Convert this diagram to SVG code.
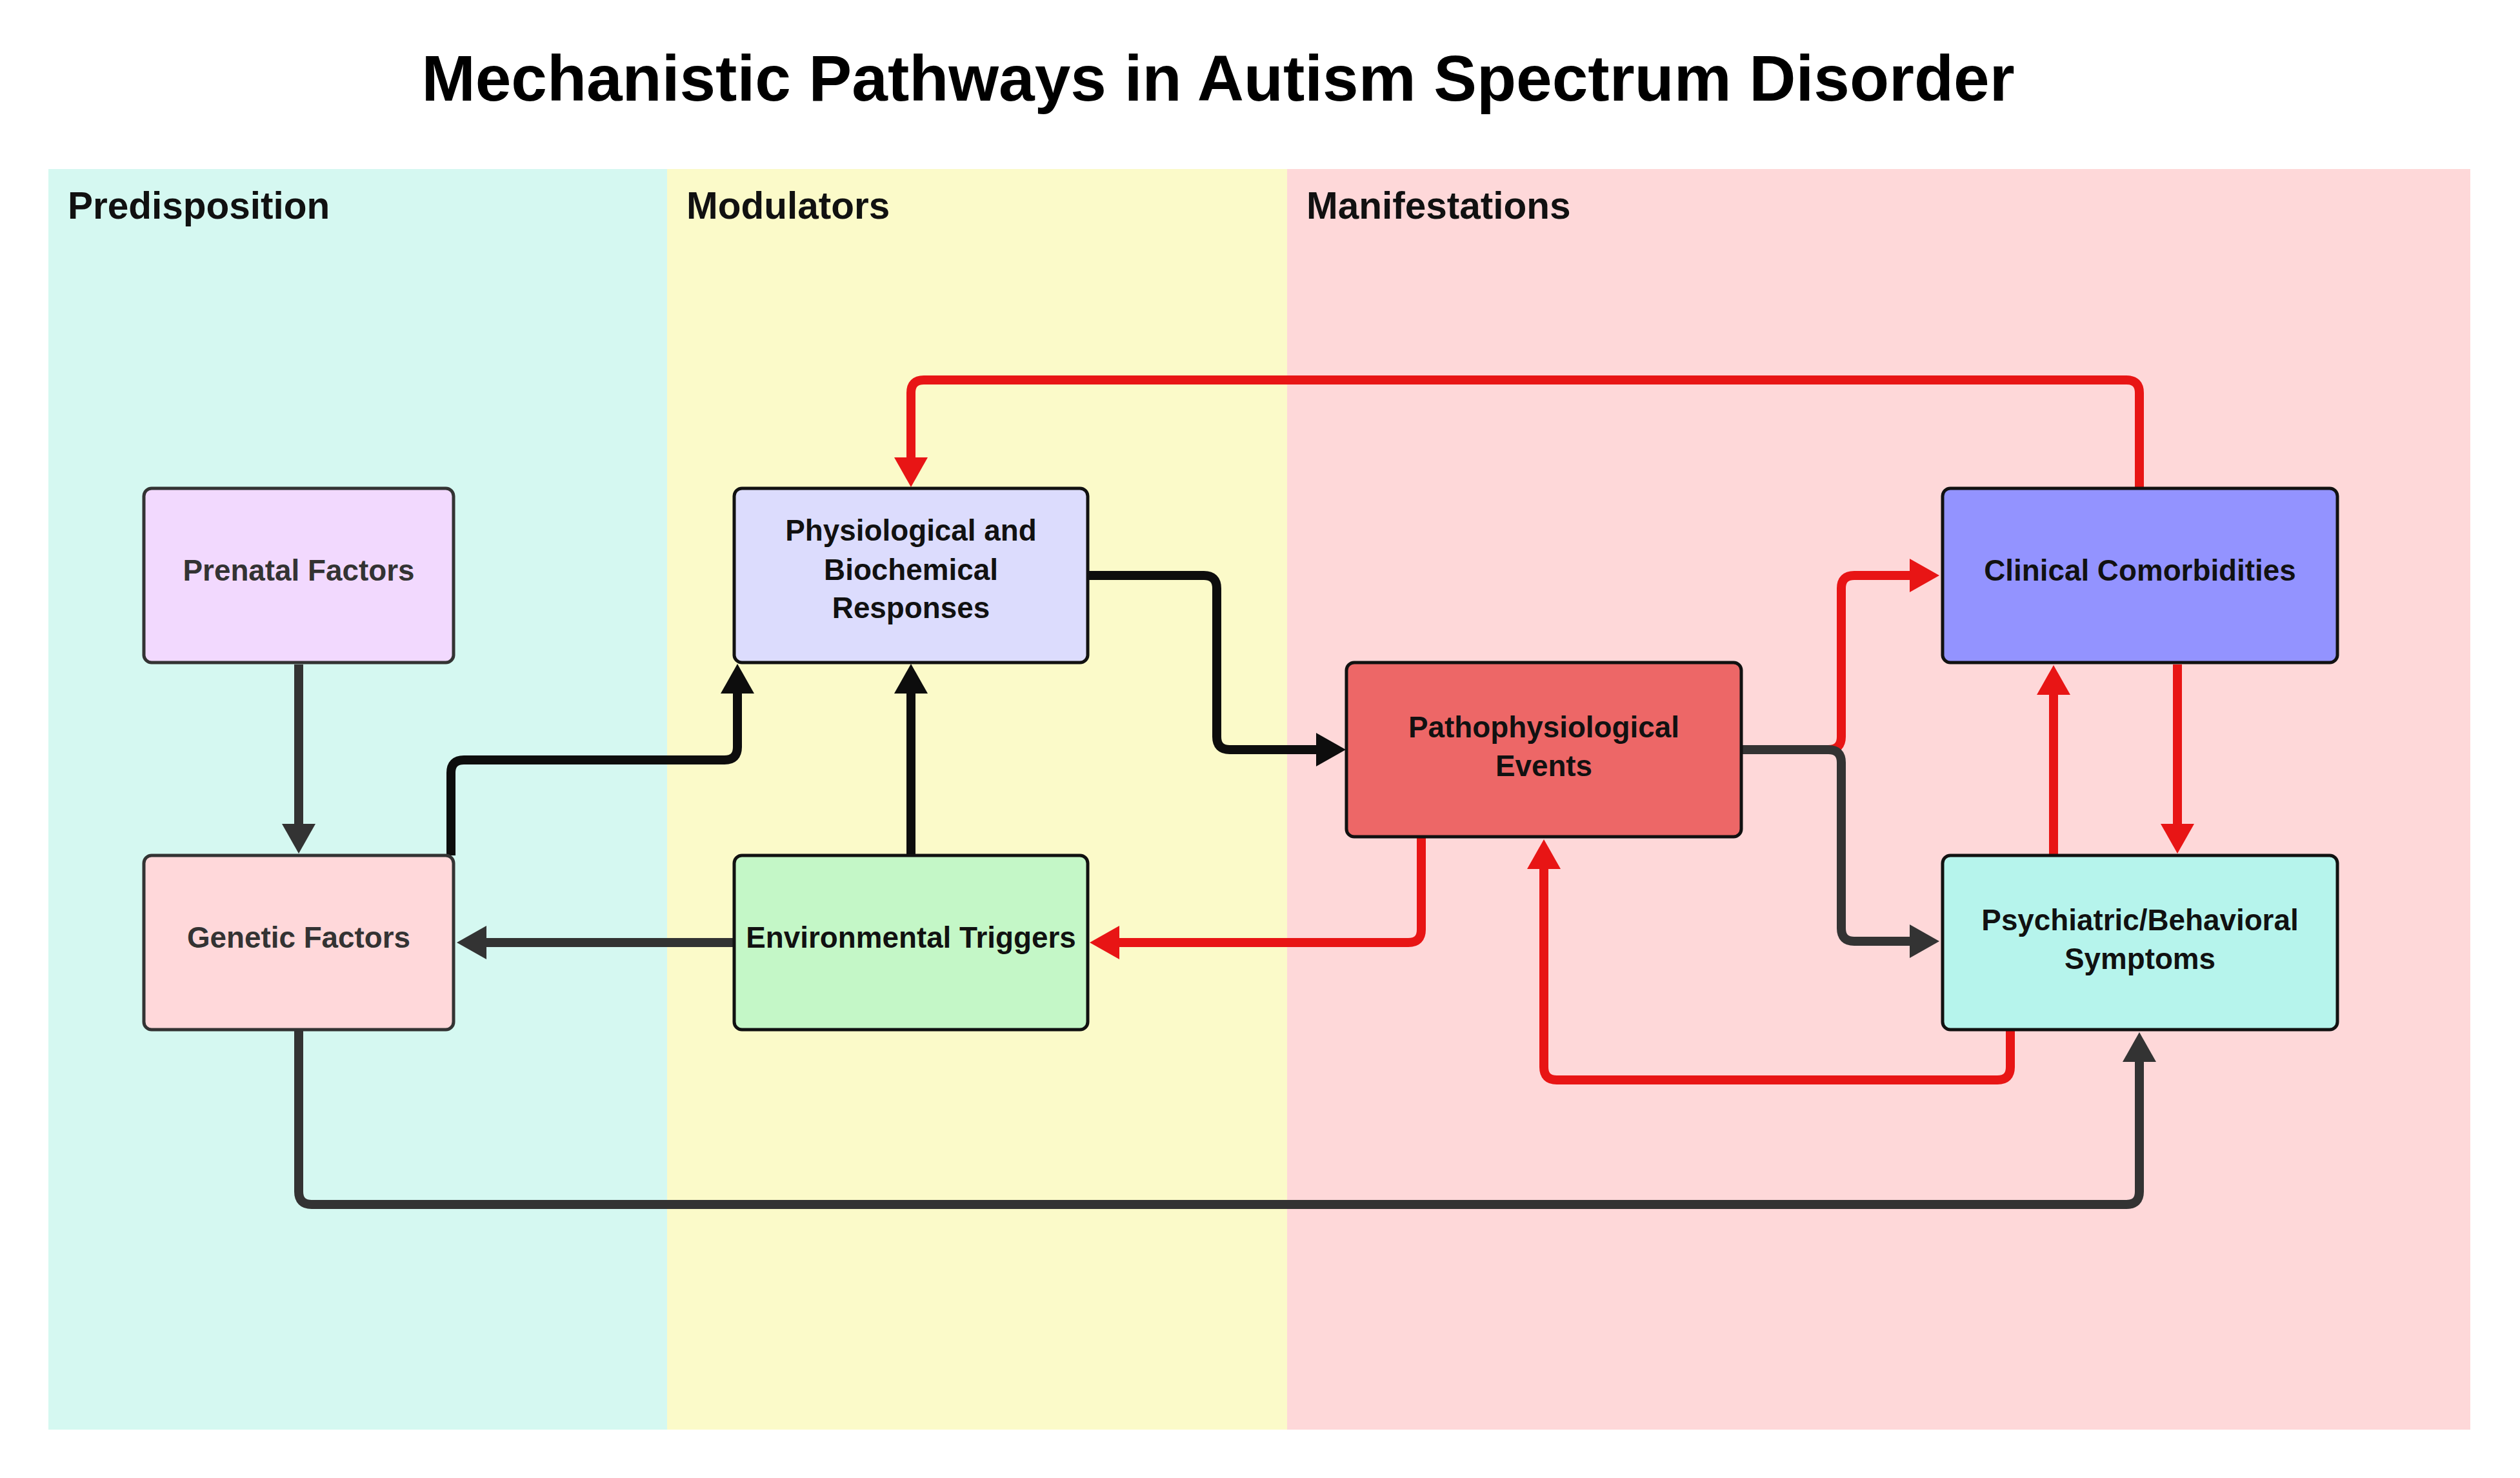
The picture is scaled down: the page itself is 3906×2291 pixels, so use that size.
<svg xmlns="http://www.w3.org/2000/svg" width="3906" height="2291" viewBox="0 0 3906 2291">
<style>
.title{font-family:"Liberation Sans",Arial,sans-serif;font-weight:bold;font-size:100px;fill:#000;text-anchor:middle}
.lane{font-family:"Liberation Sans",Arial,sans-serif;font-weight:bold;font-size:58.5px;fill:#111}
.lbl{font-family:"Liberation Sans",Arial,sans-serif;font-weight:bold;font-size:45.8px;fill:#111;text-anchor:middle}
.lbl.g{fill:#333}
.box{stroke:#111;stroke-width:5}
.box.g{stroke:#333}
.c{fill:none;stroke-width:14;stroke-linejoin:round}
.k{stroke:#0d0d0d}
.d{stroke:#333}
.r{stroke:#e81515}
</style>
<defs>
<marker id="ak" markerUnits="userSpaceOnUse" markerWidth="46" markerHeight="52" refX="0" refY="26" orient="auto"><path d="M0,0 L46,26 L0,52 z" fill="#0d0d0d"/></marker>
<marker id="ad" markerUnits="userSpaceOnUse" markerWidth="46" markerHeight="52" refX="0" refY="26" orient="auto"><path d="M0,0 L46,26 L0,52 z" fill="#333"/></marker>
<marker id="ar" markerUnits="userSpaceOnUse" markerWidth="46" markerHeight="52" refX="0" refY="26" orient="auto"><path d="M0,0 L46,26 L0,52 z" fill="#e81515"/></marker>
</defs>
<rect width="3906" height="2291" fill="#fff"/>
<text class="title" x="1888" y="156">Mechanistic Pathways in Autism Spectrum Disorder</text>
<g id="lanes">
<rect x="75" y="262" width="959" height="1954" fill="#d5f8f1"/>
<rect x="1034" y="262" width="961" height="1954" fill="#fbfac9"/>
<rect x="1995" y="262" width="1834" height="1954" fill="#fed8d9"/>
<text class="lane" x="105" y="339">Predisposition</text>
<text class="lane" x="1064" y="339">Modulators</text>
<text class="lane" x="2025" y="339">Manifestations</text>
</g>
<g id="connectors">
<path class="c d" d="M463,1030 L463,1277" marker-end="url(#ad)"/>
<path class="c k" d="M699,1326 L699,1198 Q699,1178 719,1178 L1123,1178 Q1143,1178 1143,1158 L1143,1075" marker-end="url(#ak)"/>
<path class="c k" d="M1412,1326 L1412,1075" marker-end="url(#ak)"/>
<path class="c d" d="M1138,1461 L754,1461" marker-end="url(#ad)"/>
<path class="c k" d="M1688,892 L1866,892 Q1886,892 1886,912 L1886,1142 Q1886,1162 1906,1162 L2040,1162" marker-end="url(#ak)"/>
<path class="c r" d="M3316,757 L3316,609 Q3316,589 3296,589 L1432,589 Q1412,589 1412,609 L1412,709" marker-end="url(#ar)"/>
<path class="c r" d="M2699,1162 L2834,1162 Q2854,1162 2854,1142 L2854,912 Q2854,892 2874,892 L2960,892" marker-end="url(#ar)"/>
<path class="c d" d="M2699,1162 L2834,1162 Q2854,1162 2854,1182 L2854,1439 Q2854,1459 2874,1459 L2960,1459" marker-end="url(#ad)"/>
<path class="c r" d="M3375,1030 L3375,1277" marker-end="url(#ar)"/>
<path class="c r" d="M3183,1326 L3183,1077" marker-end="url(#ar)"/>
<path class="c r" d="M2203,1298 L2203,1441 Q2203,1461 2183,1461 L1735,1461" marker-end="url(#ar)"/>
<path class="c r" d="M3116,1598 L3116,1654 Q3116,1674 3096,1674 L2413,1674 Q2393,1674 2393,1654 L2393,1347" marker-end="url(#ar)"/>
<path class="c d" d="M463,1598 L463,1847 Q463,1867 483,1867 L3296,1867 Q3316,1867 3316,1847 L3316,1646" marker-end="url(#ad)"/>
</g>
<g id="prenatal">
<rect class="box g" x="223" y="757" width="480" height="270" rx="12" fill="#f2d9fe"/>
<text class="lbl g" x="463" y="900">Prenatal Factors</text>
</g>
<g id="genetic">
<rect class="box g" x="223" y="1326" width="480" height="270" rx="12" fill="#ffd8da"/>
<text class="lbl g" x="463" y="1469">Genetic Factors</text>
</g>
<g id="physio">
<rect class="box" x="1138" y="757" width="548" height="270" rx="12" fill="#dcdcfd"/>
<text class="lbl" x="1412" y="838">Physiological and</text>
<text class="lbl" x="1412" y="899">Biochemical</text>
<text class="lbl" x="1412" y="958">Responses</text>
</g>
<g id="env">
<rect class="box" x="1138" y="1326" width="548" height="270" rx="12" fill="#c4f7c7"/>
<text class="lbl" x="1412" y="1469">Environmental Triggers</text>
</g>
<g id="patho">
<rect class="box" x="2087" y="1027" width="612" height="270" rx="12" fill="#ed6767"/>
<text class="lbl" x="2393" y="1143">Pathophysiological</text>
<text class="lbl" x="2393" y="1203">Events</text>
</g>
<g id="clinical">
<rect class="box" x="3011" y="757" width="612" height="270" rx="12" fill="#9393ff"/>
<text class="lbl" x="3317" y="900">Clinical Comorbidities</text>
</g>
<g id="psych">
<rect class="box" x="3011" y="1326" width="612" height="270" rx="12" fill="#b6f4ec"/>
<text class="lbl" x="3317" y="1442">Psychiatric/Behavioral</text>
<text class="lbl" x="3317" y="1502">Symptoms</text>
</g>
</svg>
